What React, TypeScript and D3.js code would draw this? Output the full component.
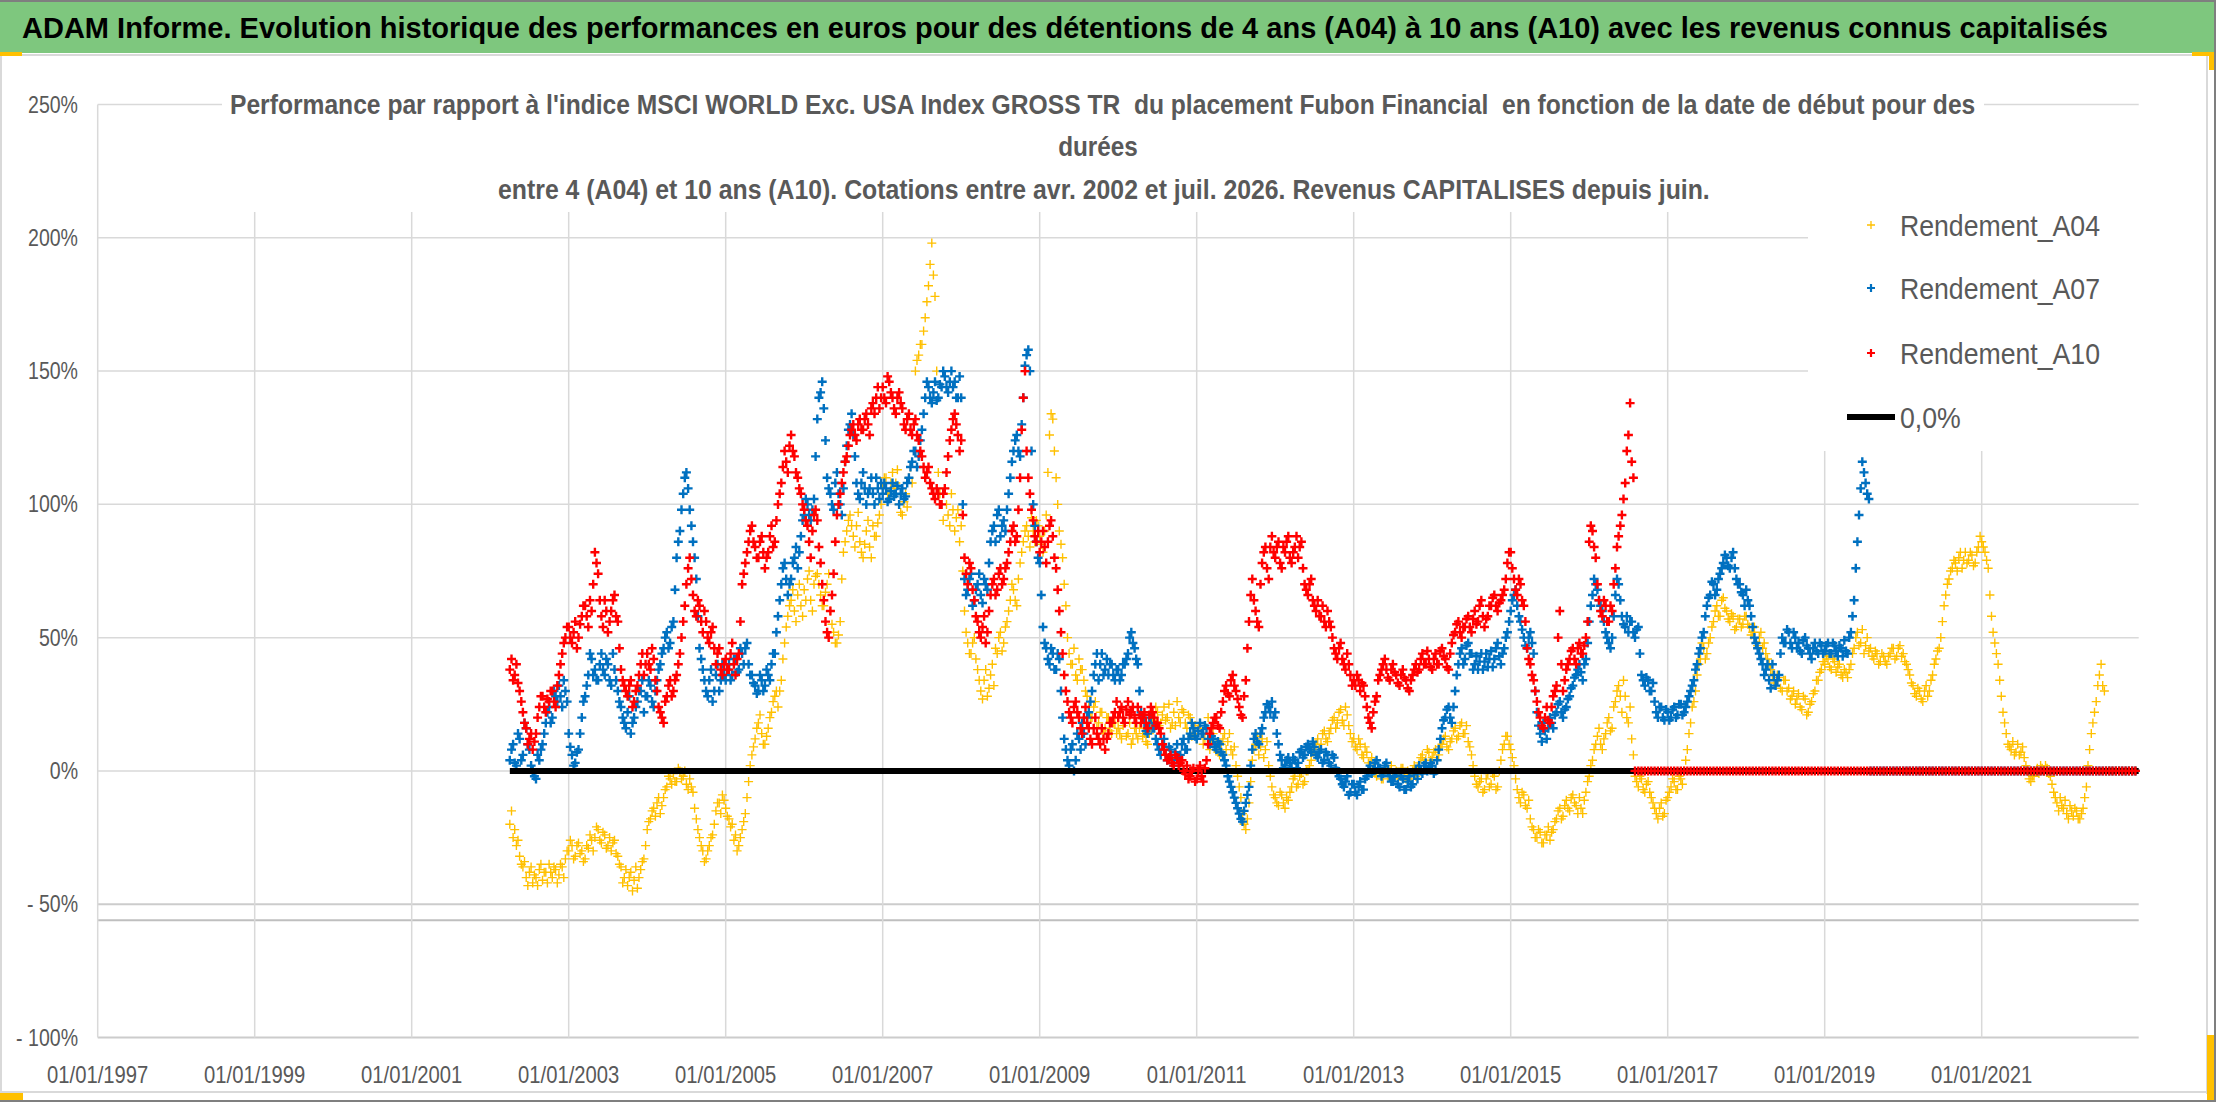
import React, { useEffect, useLayoutEffect, useRef, useState } from 'react';
import * as d3 from 'd3';

const W = 2216;
const H = 1102;

// Values read every half month (1/24 year) from April 2002 (2002.25).
// A second reading of each band (its other edge) is taken a quarter month later.
const START_YEAR = 2002.25;
const STEP = 1 / 24;
const ALT_OFFSET = 1 / 48;

const A04: number[] = [
  -20, -25, -28, -32, -36, -40, -38, -42, -40, -37, -41, -38, -35, -40, -37, -39, -36, -33,
  -30, -28, -32, -27, -30, -33, -29, -26, -25, -22, -27, -24, -28, -30, -26, -32, -36, -40, -43, -38, -41, -44, -37, -33,
  -22, -18, -14, -12, -16, -10, -6, -3, -1, -4, 0, -2, -5, -3, -8, -18, -25, -30, -33, -28, -24, -15, -12, -9,
  -14, -18, -20, -24, -28, -22, -16, -4, 6, 12, 18, 14, 10, 16, 22, 28, 24, 34, 48, 58, 64, 60, 66, 62,
  68, 72, 64, 70, 74, 66, 62, 70, 60, 52, 48, 56, 82, 90, 96, 88, 92, 86, 80, 90, 84, 92, 88, 96,
  106, 110, 104, 112, 108, 100, 96, 104, 110, 108, 150, 156, 160, 170, 182, 198, 178, 112, 100, 106, 96, 104, 90, 98,
  92, 60, 48, 44, 50, 38, 30, 34, 28, 36, 32, 44, 52, 48, 56, 64, 68, 62, 78, 86, 92, 84, 90, 94,
  88, 82, 96, 126, 132, 110, 90, 80, 62, 44, 40, 36, 42, 38, 30, 24, 20, 26, 18, 22, 16, 20, 14, 18,
  16, 12, 18, 14, 10, 16, 12, 18, 14, 10, 16, 20, 22, 18, 24, 20, 16, 22, 26, 18, 22, 16, 20, 14,
  12, 18, 10, 16, 8, 14, 10, 6, 12, 8, 14, 6, 2, -6, -16, -22, -12, 4, 10, 6, 12, 8, 2, -6,
  -10, -13, -9, -14, -11, -6, -2, -5, -1, -4, 0, 4, 8, 12, 10, 15, 11, 16, 20, 18, 23, 17, 21, 14,
  12, 8, 10, 5, 7, 3, 1, -2, 0, -3, 1, -1, -3, 0, -2, 1, -3, -1, 0, -2, 3, 6, 4, 7,
  5, 8, 6, 10, 13, 8, 12, 16, 13, 18, 14, 11, 6, -2, -6, -3, -7, -1, -5, -2, -6, 4, 10, 13,
  8, 2, -7, -12, -9, -14, -18, -22, -25, -23, -27, -24, -26, -22, -18, -14, -17, -11, -15, -9, -13, -10, -16, -8,
  -2, 4, 10, 16, 8, 14, 20, 16, 26, 32, 22, 28, 18, 12, -2, -6, -3, -8, -4, -10, -14, -18, -12, -16,
  -10, -6, -4, -7, -3, 0, 8, 18, 26, 36, 42, 46, 44, 50, 56, 62, 58, 65, 60, 56, 58, 54, 57, 55,
  58, 54, 52, 48, 50, 46, 44, 40, 36, 32, 35, 30, 34, 31, 28, 25, 29, 23, 27, 22, 26, 30, 34, 38,
  40, 42, 38, 41, 39, 36, 38, 35, 40, 46, 52, 48, 44, 50, 46, 42, 44, 41, 43, 40, 44, 46, 43, 47,
  44, 40, 36, 32, 28, 30, 26, 32, 30, 36, 42, 46, 56, 66, 72, 76, 78, 80, 76, 82, 79, 81, 78, 84,
  86, 82, 76, 58, 48, 40, 28, 18, 10, 8, 6, 10, 7, 5, 0, -4, -2, 1, 2, 0, 1, -2, -8, -12,
  -10, -14, -16, -13, -17, -15, -18, -14, -6, 8, 18, 26, 36, 32, 0, 0, 0, 0, 0, 0, 0, 0, 0, 0,
];

const A04_ALT: number[] = [
  -15, -22, -26, -35, -34, -43, -36, -39, -43, -35, -38, -42, -38, -36, -42, -35, -40, -30,
  -26, -33, -28, -31, -34, -28, -24, -30, -21, -26, -23, -29, -25, -27, -31, -35, -42, -37, -40, -45, -36, -40, -34, -28,
  -19, -15, -17, -10, -13, -7, -2, -5, -4, 1, -3, 0, -7, -6, -14, -22, -28, -34, -30, -25, -20, -12, -16, -11,
  -17, -21, -26, -30, -25, -19, -10, 2, 9, 16, 21, 10, 13, 20, 26, 30, 30, 42, 54, 62, 68, 56, 70, 58,
  64, 75, 60, 73, 70, 62, 67, 74, 55, 48, 51, 72, 86, 94, 92, 84, 97, 82, 85, 94, 80, 88, 93, 100,
  110, 104, 108, 106, 113, 97, 101, 99, 114, 130, 154, 160, 165, 176, 190, 186, 150, 104, 94, 100, 92, 98, 95, 86,
  75, 52, 44, 48, 42, 34, 27, 38, 31, 40, 46, 50, 45, 54, 60, 70, 64, 72, 82, 90, 88, 95, 86, 92,
  85, 90, 112, 134, 120, 100, 85, 70, 50, 40, 46, 34, 38, 34, 28, 20, 24, 16, 22, 14, 20, 15, 18, 14,
  14, 17, 13, 18, 12, 14, 16, 13, 11, 14, 19, 24, 17, 21, 19, 25, 18, 17, 20, 23, 18, 21, 13, 17,
  16, 14, 12, 20, 12, 9, 7, 10, 14, 11, 8, 9, -2, -10, -20, -18, -4, 8, 13, 9, 5, 11, -2, -9,
  -12, -8, -12, -10, -8, -3, -6, -2, -5, 0, 2, 7, 10, 8, 14, 12, 14, 19, 16, 22, 19, 24, 17, 11,
  9, 12, 6, 9, 3, 5, -1, 1, -3, 0, -2, 2, -1, -3, 1, -2, 0, -3, 2, 1, 5, 3, 8, 4,
  7, 4, 9, 12, 9, 11, 15, 12, 17, 14, 17, 9, 2, -5, -4, -8, -3, -6, -1, -7, 0, 8, 13, 10,
  5, -3, -10, -8, -13, -11, -21, -25, -22, -27, -24, -21, -23, -19, -15, -18, -13, -14, -10, -12, -16, -14, -11, -4,
  2, 8, 13, 10, 12, 18, 15, 24, 30, 28, 34, 20, 24, 6, -4, -2, -7, -5, -8, -12, -16, -14, -17, -11,
  -8, -3, -7, -2, -5, 4, 14, 24, 30, 40, 48, 42, 48, 54, 60, 58, 64, 61, 57, 59, 53, 57, 54, 58,
  55, 51, 54, 47, 52, 48, 42, 38, 33, 36, 31, 34, 30, 27, 30, 27, 24, 28, 21, 25, 29, 34, 37, 41,
  43, 39, 42, 37, 40, 35, 37, 38, 44, 50, 47, 53, 47, 45, 43, 45, 40, 44, 41, 43, 46, 42, 46, 43,
  41, 38, 33, 29, 31, 27, 30, 28, 34, 40, 45, 50, 62, 70, 75, 79, 75, 82, 79, 78, 82, 77, 82, 88,
  84, 79, 66, 52, 44, 34, 22, 14, 9, 11, 7, 6, 9, 2, -3, -2, 0, -1, 1, 2, -1, -5, -10, -15,
  -13, -11, -18, -15, -14, -18, -16, -10, 2, 14, 22, 32, 40, 30,
];

const A07: number[] = [
  4, 10, 2, 12, 6, 16, 8, 0, -3, 4, 10, 18, 24, 20, 28, 32, 24, 30,
  14, 6, 3, 8, 20, 28, 36, 42, 38, 34, 44, 36, 40, 32, 38, 30, 24, 18, 22, 14, 20, 26, 30, 22,
  28, 32, 24, 34, 40, 46, 52, 48, 56, 80, 90, 104, 112, 98, 86, 72, 46, 38, 30, 34, 26, 36, 30, 40,
  34, 40, 36, 42, 38, 44, 46, 40, 36, 32, 30, 34, 32, 36, 40, 44, 58, 70, 78, 66, 72, 80, 76, 88,
  96, 100, 94, 102, 132, 142, 136, 110, 104, 98, 112, 100, 106, 122, 130, 126, 108, 102, 112, 100, 106, 104, 110, 102,
  104, 106, 102, 108, 104, 100, 106, 103, 110, 116, 120, 118, 128, 140, 144, 138, 146, 140, 144, 148, 142, 150, 146, 140,
  140, 72, 68, 74, 64, 70, 66, 72, 68, 86, 92, 96, 88, 94, 98, 110, 120, 126, 118, 140, 156, 150, 100, 86,
  78, 54, 46, 40, 44, 38, 42, 20, 8, 2, 10, 4, 12, 18, 10, 22, 30, 40, 34, 44, 38, 36, 40, 34,
  38, 36, 40, 44, 52, 46, 40, 22, 18, 14, 20, 16, 10, 6, 12, 4, 8, 2, 10, 6, 12, 8, 14, 16,
  12, 18, 14, 16, 10, 12, 8, 10, 6, 2, -4, -8, -12, -16, -19, -12, -6, 8, 14, 10, 16, 22, 24, 26,
  22, 10, 4, 2, 5, 1, 4, 3, 8, 6, 10, 7, 9, 5, 8, 4, 6, 2, 5, 0, -3, -6, -2, -8,
  -5, -9, -4, -7, -2, 2, 0, 4, 1, -1, 3, -2, -4, -1, -6, -3, -7, -2, -5, 0, 2, -1, 3, 1,
  2, 0, 8, 16, 20, 24, 18, 30, 40, 46, 42, 48, 44, 40, 38, 44, 41, 39, 45, 42, 48, 40, 46, 52,
  60, 66, 62, 56, 50, 46, 52, 44, 22, 14, 18, 12, 20, 16, 22, 26, 20, 24, 28, 32, 36, 40, 34, 42,
  56, 66, 70, 64, 60, 52, 48, 50, 66, 70, 58, 54, 52, 56, 50, 54, 36, 32, 34, 30, 26, 20, 24, 19,
  22, 20, 24, 21, 25, 22, 26, 30, 34, 40, 46, 52, 62, 66, 70, 68, 74, 78, 80, 76, 82, 72, 70, 66,
  68, 62, 54, 48, 44, 40, 38, 34, 40, 32, 36, 50, 48, 52, 46, 50, 48, 44, 50, 46, 42, 48, 44, 47,
  45, 48, 44, 47, 43, 46, 49, 44, 52, 64, 86, 106, 112, 104, 0, 0, 0, 0, 0, 0, 0, 0, 0, 0,
  0, 0, 0, 0, 0, 0, 0, 0, 0, 0, 0, 0, 0, 0, 0, 0, 0, 0, 0, 0, 0, 0, 0, 0,
  0, 0, 0, 0, 0, 0, 0, 0, 0, 0, 0, 0, 0, 0, 0, 0, 0, 0, 0, 0, 0, 0, 0, 0,
  0, 0, 0, 0, 0, 0, 0, 0, 0, 0, 0, 0, 0, 0, 0, 0, 0, 0, 0, 0, 0, 0, 0, 0,
];

const A07_ALT: number[] = [
  8, 3, 14, 4, 18, 10, 2, -2, 6, 8, 14, 22, 18, 30, 26, 28, 34, 26,
  9, 2, 7, 14, 26, 32, 44, 36, 34, 40, 38, 42, 34, 44, 34, 26, 20, 16, 28, 18, 24, 30, 34, 28,
  34, 26, 30, 38, 44, 50, 46, 54, 68, 86, 98, 110, 106, 92, 80, 58, 42, 34, 28, 38, 30, 40, 34, 36,
  38, 34, 42, 37, 46, 40, 48, 36, 33, 29, 36, 30, 38, 34, 44, 52, 64, 76, 72, 70, 78, 84, 82, 94,
  102, 96, 98, 118, 140, 146, 124, 106, 100, 108, 104, 96, 116, 128, 134, 118, 104, 108, 106, 104, 110, 100, 106, 108,
  108, 101, 105, 103, 107, 104, 102, 108, 114, 120, 114, 124, 134, 146, 140, 142, 139, 145, 150, 144, 146, 144, 140, 148,
  100, 66, 72, 62, 68, 74, 63, 70, 78, 90, 86, 98, 92, 90, 104, 116, 124, 120, 130, 152, 158, 120, 92, 80,
  66, 48, 42, 46, 38, 44, 30, 12, 4, 8, 0, 14, 8, 14, 20, 26, 36, 44, 40, 36, 42, 40, 36, 38,
  34, 40, 42, 50, 48, 42, 30, 20, 15, 18, 16, 12, 8, 10, 6, 9, 4, 7, 5, 10, 8, 12, 18, 13,
  15, 14, 17, 12, 13, 9, 11, 7, 4, -2, -6, -10, -14, -18, -15, -9, 2, 12, 11, 14, 20, 25, 22, 20,
  14, 6, 1, 4, 3, 5, 1, 7, 5, 9, 8, 11, 6, 7, 3, 7, 3, 6, 1, -2, -5, -4, -9, -5,
  -8, -6, -7, -3, 0, -1, 3, 1, -2, 2, 0, -4, -2, -5, -2, -7, -4, -6, -1, -3, 0, 2, 0, 3,
  -1, 4, 12, 19, 23, 20, 24, 36, 44, 40, 47, 44, 38, 43, 41, 38, 44, 42, 39, 46, 43, 44, 50, 56,
  64, 68, 58, 53, 47, 50, 48, 30, 17, 11, 15, 16, 18, 21, 25, 22, 23, 27, 31, 35, 38, 37, 40, 48,
  62, 72, 68, 62, 56, 50, 46, 58, 72, 64, 55, 58, 56, 52, 53, 44, 34, 35, 30, 33, 22, 24, 20, 23,
  19, 23, 20, 25, 21, 24, 28, 32, 38, 44, 50, 58, 65, 71, 66, 72, 76, 81, 77, 80, 76, 70, 67, 62,
  64, 58, 50, 46, 42, 36, 40, 31, 36, 34, 44, 48, 53, 48, 52, 46, 45, 49, 47, 44, 46, 45, 48, 44,
  47, 44, 48, 45, 47, 43, 45, 50, 58, 76, 96, 116, 108, 102,
];

const A10: number[] = [
  38, 34, 40, 30, 22, 16, 12, 8, 14, 24, 28, 22, 26, 30, 24, 36, 44, 50,
  54, 48, 56, 50, 58, 62, 54, 60, 82, 74, 58, 64, 52, 60, 66, 56, 38, 32, 28, 34, 26, 32, 40, 36,
  44, 38, 42, 30, 22, 18, 28, 34, 30, 36, 44, 56, 70, 80, 66, 58, 62, 52, 56, 48, 54, 40, 46, 36,
  42, 38, 48, 36, 44, 70, 78, 86, 92, 84, 80, 88, 76, 82, 92, 86, 100, 108, 120, 112, 126, 118, 110, 104,
  98, 92, 80, 96, 94, 78, 64, 52, 60, 74, 96, 104, 112, 118, 126, 130, 124, 132, 128, 134, 126, 138, 140, 136,
  144, 138, 146, 140, 134, 142, 136, 128, 134, 126, 132, 124, 118, 110, 114, 106, 102, 104, 100, 106, 118, 128, 134, 126,
  124, 80, 70, 76, 64, 56, 50, 58, 52, 66, 72, 68, 76, 72, 78, 86, 92, 88, 110, 140, 120, 104, 94, 86,
  82, 90, 78, 92, 88, 76, 60, 44, 30, 22, 18, 26, 20, 14, 24, 16, 10, 20, 12, 16, 8, 14, 18, 22,
  20, 24, 18, 26, 22, 20, 24, 18, 22, 16, 24, 20, 18, 14, 8, 4, 6, 2, 5, 3, 0, 2, -2, 1,
  -3, 2, -4, 4, 14, 18, 20, 16, 26, 32, 28, 36, 30, 24, 20, 34, 56, 72, 60, 54, 78, 84, 72, 88,
  80, 86, 76, 82, 88, 78, 84, 80, 86, 70, 66, 72, 62, 64, 58, 56, 60, 54, 46, 42, 48, 40, 44, 36,
  34, 36, 30, 32, 24, 18, 22, 28, 36, 40, 38, 34, 40, 36, 32, 38, 34, 30, 36, 40, 38, 44, 40, 42,
  38, 44, 40, 46, 42, 38, 48, 52, 56, 50, 54, 58, 52, 60, 56, 64, 54, 58, 62, 66, 60, 64, 68, 78,
  82, 72, 66, 70, 62, 46, 40, 34, 26, 20, 16, 24, 18, 28, 32, 60, 30, 38, 42, 46, 40, 48, 44, 50,
  86, 90, 80, 64, 58, 62, 56, 60, 76, 88, 96, 108, 126, 116, 0, 0, 0, 0, 0, 0, 0, 0, 0, 0,
  0, 0, 0, 0, 0, 0, 0, 0, 0, 0, 0, 0, 0, 0, 0, 0, 0, 0, 0, 0, 0, 0, 0, 0,
  0, 0, 0, 0, 0, 0, 0, 0, 0, 0, 0, 0, 0, 0, 0, 0, 0, 0, 0, 0, 0, 0, 0, 0,
  0, 0, 0, 0, 0, 0, 0, 0, 0, 0, 0, 0, 0, 0, 0, 0, 0, 0, 0, 0, 0, 0, 0, 0,
  0, 0, 0, 0, 0, 0, 0, 0, 0, 0, 0, 0, 0, 0, 0, 0, 0, 0, 0, 0, 0, 0, 0, 0,
  0, 0, 0, 0, 0, 0, 0, 0, 0, 0, 0, 0, 0, 0, 0, 0, 0, 0, 0, 0, 0, 0, 0, 0,
  0, 0, 0, 0, 0, 0, 0, 0, 0, 0, 0, 0, 0, 0, 0, 0, 0, 0, 0, 0, 0, 0, 0, 0,
];

const A10_ALT: number[] = [
  42, 36, 33, 26, 18, 10, 14, 11, 20, 28, 24, 27, 30, 26, 32, 40, 48, 54,
  50, 52, 46, 55, 62, 58, 64, 70, 78, 64, 54, 60, 56, 64, 58, 46, 34, 30, 32, 24, 30, 36, 44, 40,
  40, 46, 34, 24, 20, 26, 32, 28, 34, 40, 50, 62, 76, 72, 60, 64, 56, 60, 50, 52, 46, 44, 38, 40,
  38, 44, 40, 42, 56, 74, 82, 90, 86, 80, 86, 82, 80, 88, 84, 94, 104, 114, 116, 122, 120, 112, 106, 100,
  94, 86, 90, 98, 84, 70, 56, 50, 66, 86, 100, 108, 116, 122, 128, 126, 130, 128, 132, 130, 136, 134, 144, 140,
  140, 148, 142, 136, 140, 138, 130, 132, 128, 130, 126, 120, 114, 112, 108, 104, 106, 100, 104, 112, 124, 132, 130, 120,
  96, 74, 78, 68, 58, 52, 54, 48, 60, 70, 66, 74, 70, 76, 82, 90, 86, 98, 128, 150, 110, 98, 88, 90,
  86, 84, 86, 94, 80, 68, 52, 36, 26, 20, 24, 22, 16, 20, 18, 12, 16, 14, 10, 12, 12, 18, 20, 26,
  22, 20, 23, 21, 24, 18, 21, 20, 18, 21, 22, 17, 16, 10, 6, 5, 3, 6, 2, 4, -1, -3, 0, -4,
  0, -2, 1, 10, 16, 20, 17, 22, 30, 29, 34, 32, 27, 21, 28, 46, 66, 64, 56, 70, 82, 76, 84, 82,
  84, 78, 84, 86, 80, 82, 88, 84, 76, 68, 70, 64, 60, 58, 62, 54, 56, 50, 44, 46, 42, 38, 40, 32,
  32, 34, 33, 28, 20, 16, 26, 34, 38, 42, 35, 38, 37, 33, 36, 35, 31, 34, 38, 37, 42, 40, 45, 39,
  42, 40, 45, 43, 39, 44, 51, 55, 52, 54, 57, 54, 57, 55, 62, 58, 57, 62, 65, 62, 63, 66, 72, 82,
  76, 68, 72, 64, 56, 42, 36, 30, 22, 17, 20, 19, 24, 30, 50, 40, 34, 40, 45, 42, 46, 44, 47, 56,
  92, 84, 70, 60, 64, 56, 62, 70, 84, 92, 102, 120, 138, 110,
];

const ZERO_LINE = { from: 2002.25, to: 2023.0, value: 0 };
const EXTRA_LINE_VALUE = -56;

const Y_TICKS = [250, 200, 150, 100, 50, 0, -50, -100];
const X_TICKS = [1997, 1999, 2001, 2003, 2005, 2007, 2009, 2011, 2013, 2015, 2017, 2019, 2021];

const TITLE =
  'ADAM Informe. Evolution historique des performances en euros pour des détentions de 4 ans (A04) à 10 ans (A10) avec les revenus connus capitalisés';
const SUB1 =
  "Performance par rapport à l'indice MSCI WORLD Exc. USA Index GROSS TR  du placement Fubon Financial  en fonction de la date de début pour des";
const SUB2 = 'durées';
const SUB3 =
  'entre 4 (A04) et 10 ans (A10). Cotations entre avr. 2002 et juil. 2026. Revenus CAPITALISES depuis juin.';

const LEGEND = [
  { name: 'Rendement_A04', color: '#FFC000' },
  { name: 'Rendement_A07', color: '#0070C0' },
  { name: 'Rendement_A10', color: '#FF0000' },
];
const LEGEND_LINE_LABEL = '0,0%';

const FONT = "'Liberation Sans', Arial, sans-serif";
const GRAY_TEXT = '#595959';
const GRID = '#d9d9d9';
const ORANGE = '#FFC000';

function fmtY(v: number) {
  return v < 0 ? `- ${-v}%` : `${v}%`;
}
function fmtX(y: number) {
  return `01/01/${y}`;
}

type FitProps = {
  x: number;
  y: number;
  width: number;
  anchor?: 'start' | 'middle' | 'end';
  children: string;
  [key: string]: any;
};

// Text squeezed horizontally (like the condensed original font) to a measured width
function FitText({ x, y, width, anchor = 'start', children, ...rest }: FitProps) {
  const ref = useRef<SVGTextElement>(null);
  const [s, setS] = useState(0.85);
  useLayoutEffect(() => {
    const el = ref.current;
    if (el) {
      const w = el.getComputedTextLength();
      if (w > 0) setS(width / w);
    }
  }, [width, children]);
  return (
    <text ref={ref} transform={`translate(${x},${y}) scale(${s},1)`} textAnchor={anchor} {...rest}>
      {children}
    </text>
  );
}

export default function App() {
  useEffect(() => {
    document.body.style.margin = '0';
    document.body.style.overflow = 'hidden';
  }, []);

  const x = d3.scaleLinear().domain([1997, 2023]).range([97.7, 2138.7]);
  const y = d3.scaleLinear().domain([-100, 250]).range([1037.5, 104.5]);

  const plusPath = (vals: number[], start: number, h: number) =>
    vals
      .map((v, i) => {
        const px = x(start + i * STEP);
        const py = y(v);
        return `M${(px - h).toFixed(1)},${py.toFixed(1)}H${(px + h).toFixed(1)}M${px.toFixed(1)},${(py - h).toFixed(1)}V${(py + h).toFixed(1)}`;
      })
      .join('');

  const zeroLine = d3
    .line<number>()
    .x((d) => x(d))
    .y(() => y(ZERO_LINE.value))([ZERO_LINE.from, ZERO_LINE.to]) as string;

  const plotL = x(1997);
  const plotR = x(2023);
  const legendY = [225, 288, 353];

  const a04d = plusPath(A04, START_YEAR, 4.5) + plusPath(A04_ALT, START_YEAR + ALT_OFFSET, 4.5);
  const a07d = plusPath(A07, START_YEAR, 4.5) + plusPath(A07_ALT, START_YEAR + ALT_OFFSET, 4.5);
  const a10d = plusPath(A10, START_YEAR, 4.5) + plusPath(A10_ALT, START_YEAR + ALT_OFFSET, 4.5);

  return (
    <svg
      width={W}
      height={H}
      viewBox={`0 0 ${W} ${H}`}
      style={{ position: 'absolute', left: 0, top: 0, display: 'block', background: '#fff' }}
      fontFamily={FONT}
    >
      <rect x={0} y={0} width={W} height={H} fill="#ffffff" />
      <rect x={0} y={0} width={W} height={2} fill="#7f7f7f" />
      <rect x={2214} y={0} width={2} height={H} fill="#7f7f7f" />
      <rect x={0} y={1100} width={W} height={2} fill="#7f7f7f" />
      <rect x={0} y={2} width={2214} height={51} fill="#7ec77e" />
      <FitText x={22} y={38} width={2086} fontSize={30} fontWeight="bold" fill="#000">
        {TITLE}
      </FitText>
      <rect x={0} y={54} width={2208} height={2} fill={GRID} />
      <rect x={0} y={54} width={2} height={1040} fill={GRID} />
      <rect x={2206} y={54} width={2} height={1040} fill={GRID} />
      <rect x={0} y={1091} width={2208} height={2} fill={GRID} />

      {Y_TICKS.map((t) => (
        <line
          key={`h${t}`}
          x1={plotL}
          x2={plotR}
          y1={y(t)}
          y2={y(t)}
          stroke={t === -50 || t === -100 ? '#cccccc' : GRID}
          strokeWidth={t === -50 || t === -100 ? 2 : 1.5}
        />
      ))}
      <line x1={plotL} x2={plotR} y1={y(EXTRA_LINE_VALUE)} y2={y(EXTRA_LINE_VALUE)} stroke="#bfbfbf" strokeWidth={2} />
      {X_TICKS.map((t) => (
        <line key={`v${t}`} x1={x(t)} x2={x(t)} y1={y(250)} y2={y(-100)} stroke={GRID} strokeWidth={1.5} />
      ))}

      {Y_TICKS.map((t) => (
        <text
          key={`yl${t}`}
          transform={`translate(78,${y(t) + 8}) scale(0.85,1)`}
          textAnchor="end"
          fontSize={23}
          fill={GRAY_TEXT}
        >
          {fmtY(t)}
        </text>
      ))}
      {X_TICKS.map((t) => (
        <text
          key={`xl${t}`}
          transform={`translate(${x(t)},1083) scale(0.88,1)`}
          textAnchor="middle"
          fontSize={23}
          fill={GRAY_TEXT}
        >
          {fmtX(t)}
        </text>
      ))}

      <path d={a04d} stroke="#FFC000" strokeWidth={1.4} fill="none" />
      <path d={a07d} stroke="#0070C0" strokeWidth={2.4} fill="none" />
      <path d={zeroLine} stroke="#000" strokeWidth={6} fill="none" />
      <path d={a10d} stroke="#FF0000" strokeWidth={2.4} fill="none" />

      <rect x={222} y={84} width={1762} height={128} fill="#fff" />
      <FitText x={230} y={114} width={1746} fontSize={27} fontWeight="bold" fill={GRAY_TEXT} style={{ whiteSpace: 'pre' }}>
        {SUB1}
      </FitText>
      <text
        transform="translate(1098,156) scale(0.9,1)"
        textAnchor="middle"
        fontSize={27}
        fontWeight="bold"
        fill={GRAY_TEXT}
      >
        {SUB2}
      </text>
      <FitText x={498} y={199} width={1212} fontSize={27} fontWeight="bold" fill={GRAY_TEXT}>
        {SUB3}
      </FitText>

      <rect x={1808} y={185} width={340} height={266} fill="#fff" />
      {LEGEND.map((l, i) => {
        const cy = legendY[i];
        const h = 4;
        return (
          <g key={l.name}>
            <path
              d={`M${1871 - h},${cy}H${1871 + h}M1871,${cy - h}V${cy + h}`}
              stroke={l.color}
              strokeWidth={i === 0 ? 1.3 : 2.2}
            />
            <FitText x={1900} y={cy + 11} width={200} fontSize={30} fill={GRAY_TEXT}>
              {l.name}
            </FitText>
          </g>
        );
      })}
      <line x1={1847} x2={1895} y1={417} y2={417} stroke="#000" strokeWidth={6} />
      <text transform="translate(1900,428) scale(0.89,1)" fontSize={30} fill={GRAY_TEXT}>
        {LEGEND_LINE_LABEL}
      </text>

      <rect x={0} y={52} width={22} height={4} fill={ORANGE} />
      <rect x={2192} y={52} width={22} height={4} fill={ORANGE} />
      <rect x={2209} y={52} width={5} height={18} fill={ORANGE} />
      <rect x={0} y={1093} width={23} height={7} fill={ORANGE} />
      <rect x={2207} y={1035} width={7} height={65} fill={ORANGE} />
    </svg>
  );
}
